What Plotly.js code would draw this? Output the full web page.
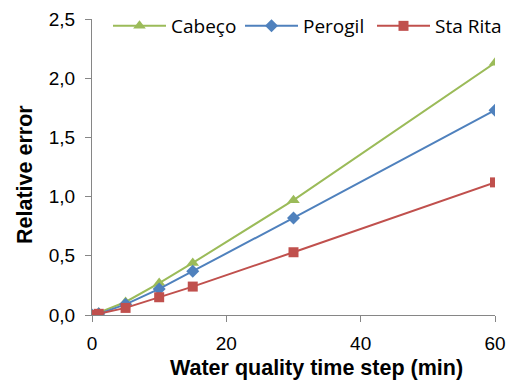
<!DOCTYPE html>
<html><head><meta charset="utf-8">
<script src="https://cdn.plot.ly/plotly-3.0.1.min.js"></script>
<style>body{margin:0;padding:0;background:#fff}#c{width:513px;height:380px}</style>
</head><body><div id="c"></div>
<script>
var timeStep = [0, 1, 5, 10, 15, 30, 60];
var cabeco = [0, 0.02, 0.11, 0.27, 0.44, 0.97, 2.13];
var perogil = [0, 0.01, 0.09, 0.22, 0.37, 0.82, 1.73];
var staRita = [0, 0.01, 0.06, 0.15, 0.24, 0.53, 1.12];
var seriesNames = ['Cabeço', 'Perogil', 'Sta Rita'];
var xTitle = 'Water quality time step (min)';
var yTitle = 'Relative error';

var traces = [
  {x: timeStep, y: cabeco, name: seriesNames[0], mode: 'lines+markers',
   line: {color: '#9BBB59', width: 2}, marker: {symbol: 'triangle-up', size: 11, color: '#9BBB59'}},
  {x: timeStep, y: perogil, name: seriesNames[1], mode: 'lines+markers',
   line: {color: '#4F81BD', width: 2}, marker: {symbol: 'diamond', size: 10, color: '#4F81BD'}},
  {x: timeStep, y: staRita, name: seriesNames[2], mode: 'lines+markers',
   line: {color: '#C0504D', width: 2}, marker: {symbol: 'square', size: 10, color: '#C0504D'}}
];

var layout = {
  width: 513, height: 380,
  margin: {l: 92, r: 18, t: 19, b: 65, autoexpand: false},
  separators: ',.',
  paper_bgcolor: '#fff', plot_bgcolor: '#fff',
  font: {family: 'Liberation Sans, Arial, sans-serif', size: 19, color: '#000'},
  showlegend: true,
  legend: {orientation: 'h', xref: 'container', yref: 'container',
           x: 108 / 513, xanchor: 'left', y: 1 - 26/380, yanchor: 'middle',
           font: {family: 'Open Sans, sans-serif', size: 19}, bgcolor: 'rgba(0,0,0,0)',
           itemwidth: 53, entrywidth: 64, entrywidthmode: 'pixels'},
  xaxis: {range: [0, 60], tickvals: [0, 20, 40, 60], showgrid: false, zeroline: false,
          showline: true, linecolor: '#868686', linewidth: 1, ticks: 'outside', ticklen: 6,
          tickcolor: '#868686', tickfont: {size: 19}, automargin: false, ticklabelstandoff: 5},
  yaxis: {range: [0, 2.5], tickvals: [0, 0.5, 1, 1.5, 2, 2.5], tickformat: '.1f',
          showgrid: false, zeroline: false, showline: true, linecolor: '#868686', linewidth: 1,
          ticks: 'outside', ticklen: 6, tickcolor: '#868686', tickfont: {size: 19}, automargin: false,
          ticklabelstandoff: 6},
  annotations: [
    {text: '<b>' + xTitle + '</b>', xref: 'paper', yref: 'paper', x: (316 - 92) / 403, y: -(368 - 315) / 296,
     xanchor: 'center', yanchor: 'middle', showarrow: false, font: {size: 21.5}},
    {text: '<b>' + yTitle + '</b>', xref: 'paper', yref: 'paper', x: -(92 - 25) / 403, y: (315 - 175) / 296,
     xanchor: 'center', yanchor: 'middle', showarrow: false, textangle: -90, font: {size: 21.5}}
  ]
};
Plotly.newPlot('c', traces, layout, {displayModeBar: false, staticPlot: true});
</script></body></html>
